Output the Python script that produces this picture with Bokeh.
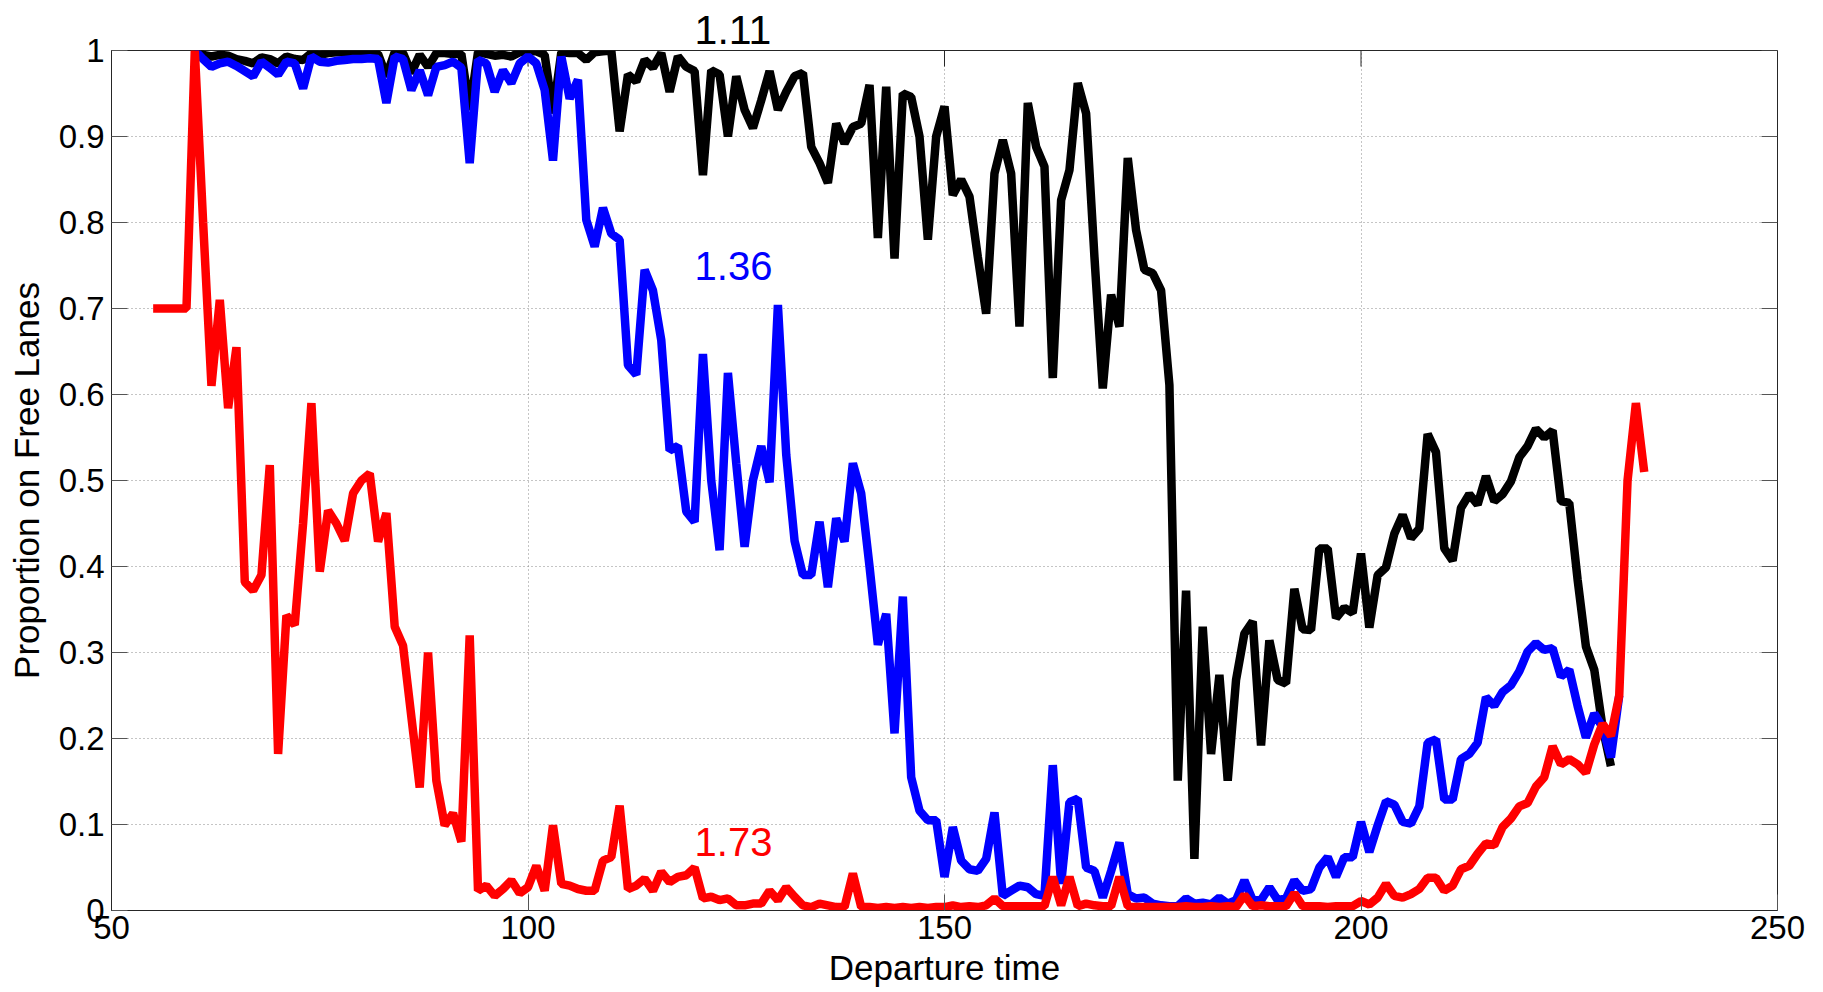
from bokeh.plotting import figure
from bokeh.models import Label, FixedTicker, Range1d, CustomJSTickFormatter, Title
from bokeh.embed import file_html
from bokeh.resources import INLINE

FONT = "Liberation Sans"

# Departure times (start of each series)
red_start, blue_start, black_start = 55, 60, 60

red_vals = [
    0.70, 0.70, 0.70, 0.70, 0.70,
    1.00, 0.80, 0.61, 0.71, 0.584, 0.655, 0.382, 0.372, 0.39, 0.518,
    0.182, 0.343, 0.332, 0.45, 0.59, 0.394, 0.465, 0.45, 0.43, 0.485,
    0.50, 0.508, 0.429, 0.462, 0.33, 0.308, 0.225, 0.143, 0.30, 0.151,
    0.099, 0.113, 0.08, 0.32, 0.023, 0.029, 0.017, 0.025, 0.035, 0.02,
    0.027, 0.052, 0.023, 0.099, 0.031, 0.029, 0.025, 0.023, 0.023, 0.058,
    0.062, 0.122, 0.025, 0.029, 0.037, 0.023, 0.045, 0.033, 0.039, 0.041,
    0.05, 0.014, 0.016, 0.012, 0.014, 0.006, 0.006, 0.008, 0.008, 0.023,
    0.012, 0.027, 0.016, 0.006, 0.004, 0.008, 0.006, 0.004, 0.004, 0.043,
    0.004, 0.004, 0.003, 0.004, 0.003, 0.004, 0.003, 0.004, 0.003, 0.004,
    0.004, 0.006, 0.004, 0.005, 0.004, 0.006, 0.014, 0.005, 0.005, 0.005,
    0.005, 0.005, 0.005, 0.039, 0.006, 0.039, 0.005, 0.008, 0.006, 0.005,
    0.005, 0.039, 0.005, 0.004, 0.004, 0.004, 0.004, 0.004, 0.004, 0.005,
    0.004, 0.004, 0.005, 0.004, 0.005, 0.004, 0.018, 0.005, 0.006, 0.005,
    0.005, 0.005, 0.02, 0.005, 0.005, 0.005, 0.004, 0.005, 0.005, 0.005,
    0.011, 0.007, 0.015, 0.031, 0.017, 0.015, 0.019, 0.025, 0.038, 0.038,
    0.023, 0.029, 0.048, 0.052, 0.066, 0.078, 0.076, 0.097, 0.107, 0.121,
    0.125, 0.144, 0.155, 0.191, 0.17, 0.176, 0.17, 0.16, 0.193, 0.217,
    0.203, 0.25, 0.5, 0.59, 0.51,
]

blue_vals = [
    1.0, 0.99, 0.981, 0.985, 0.987, 0.982, 0.976, 0.97, 0.987, 0.98,
    0.972, 0.987, 0.985, 0.956, 0.993, 0.987, 0.986, 0.988, 0.989, 0.99,
    0.99, 0.991, 0.99, 0.939, 0.993, 0.99, 0.954, 0.977, 0.948, 0.981,
    0.983, 0.987, 0.98, 0.869, 0.989, 0.985, 0.952, 0.977, 0.962, 0.985,
    0.993, 0.985, 0.954, 0.872, 0.993, 0.944, 0.966, 0.803, 0.772, 0.817,
    0.787, 0.78, 0.634, 0.623, 0.745, 0.721, 0.663, 0.535, 0.54, 0.464,
    0.452, 0.647, 0.50, 0.419, 0.625, 0.52, 0.423, 0.50, 0.54, 0.498,
    0.704, 0.53, 0.43, 0.39, 0.39, 0.452, 0.376, 0.456, 0.429, 0.52,
    0.485, 0.40, 0.309, 0.345, 0.206, 0.365, 0.155, 0.116, 0.105, 0.105,
    0.039, 0.097, 0.058, 0.048, 0.046, 0.06, 0.114, 0.017, 0.023, 0.029,
    0.027, 0.019, 0.017, 0.169, 0.031, 0.126, 0.13, 0.05, 0.046, 0.015,
    0.046, 0.079, 0.019, 0.014, 0.015, 0.008, 0.006, 0.005, 0.005, 0.014,
    0.008, 0.009, 0.007, 0.015, 0.008, 0.012, 0.035, 0.012, 0.012, 0.027,
    0.012, 0.014, 0.035, 0.023, 0.025, 0.05, 0.062, 0.039, 0.062, 0.062,
    0.103, 0.068, 0.099, 0.127, 0.123, 0.103, 0.101, 0.121, 0.195, 0.199,
    0.129, 0.129, 0.176, 0.182, 0.195, 0.248, 0.238, 0.254, 0.262, 0.278,
    0.301, 0.311, 0.303, 0.305, 0.272, 0.28, 0.238, 0.201, 0.229, 0.213,
    0.178, 0.25,
]

black_vals = [
    1.0, 0.995, 0.993, 0.995, 0.994, 0.99, 0.988, 0.985, 0.992, 0.99,
    0.985, 0.993, 0.99, 0.989, 0.997, 0.995, 0.997, 0.998, 0.998, 0.998,
    0.999, 0.998, 0.996, 0.97, 0.998, 0.997, 0.974, 0.995, 0.981, 0.997,
    0.997, 0.996, 0.996, 0.931, 0.998, 0.996, 0.994, 0.995, 0.993, 0.998,
    0.999, 0.999, 0.995, 0.927, 0.998, 0.997, 0.997, 0.989, 0.998, 0.999,
    1.0, 0.906, 0.972, 0.964, 0.989, 0.98, 0.997, 0.952, 0.993, 0.981,
    0.976, 0.855, 0.977, 0.972, 0.90, 0.97, 0.931, 0.91, 0.942, 0.976,
    0.931, 0.952, 0.97, 0.974, 0.888, 0.869, 0.846, 0.915, 0.892, 0.911,
    0.915, 0.96, 0.782, 0.958, 0.758, 0.95, 0.946, 0.90, 0.78, 0.90,
    0.935, 0.832, 0.85, 0.83, 0.76, 0.694, 0.857, 0.896, 0.857, 0.679,
    0.939, 0.888, 0.865, 0.619, 0.826, 0.861, 0.962, 0.927, 0.76, 0.607,
    0.716, 0.679, 0.875, 0.791, 0.745, 0.741, 0.721, 0.611, 0.151, 0.372,
    0.06, 0.33, 0.182, 0.274, 0.151, 0.268, 0.322, 0.336, 0.192, 0.314,
    0.268, 0.264, 0.374, 0.327, 0.326, 0.421, 0.421, 0.34, 0.352, 0.346,
    0.415, 0.329, 0.39, 0.399, 0.438, 0.46, 0.433, 0.444, 0.554, 0.533,
    0.421, 0.407, 0.468, 0.484, 0.472, 0.505, 0.476, 0.484, 0.499, 0.527,
    0.54, 0.56, 0.55, 0.558, 0.476, 0.474, 0.385, 0.307, 0.28, 0.213,
    0.168,
]

red_t = list(range(red_start, red_start + len(red_vals)))
blue_t = list(range(blue_start, blue_start + len(blue_vals)))
black_t = list(range(black_start, black_start + len(black_vals)))

x_ticks = [50, 100, 150, 200, 250]
y_ticks = [0, 0.1, 0.2, 0.3, 0.4, 0.5, 0.6, 0.7, 0.8, 0.9, 1.0]

annot_texts = ["1.11", "1.36", "1.73"]
annot_colors = ["black", "blue", "red"]
annot_x = [120, 120, 120]
annot_y = [1.03, 0.75, 0.08]

X0, X1, Y0, Y1 = 50, 250, 0, 1
W, H = 1823, 992
ML, MR, MT, MB = 111, 46, 50, 82
FW, FH = W - ML - MR, H - MT - MB
TICK = 16

p = figure(width=W, height=H, output_backend="svg", toolbar_location=None,
           x_range=Range1d(X0, X1), y_range=Range1d(Y0, Y1),
           min_border_left=ML, min_border_right=MR, min_border_top=MT,
           min_border_bottom=MB, background_fill_color="white",
           border_fill_color="white")

# "1.11" sits above the frame: use the title, offset to the annotation x position
p.title = Title(text=annot_texts[0], align="left",
                offset=(annot_x[0] - X0) / (X1 - X0) * FW,
                text_font=FONT, text_font_size="41px", text_font_style="normal",
                text_color=annot_colors[0], standoff=14, text_line_height=0.55)

p.outline_line_color = "#262626"
p.outline_line_width = 1

fmt = CustomJSTickFormatter(code="return tick.toFixed(1).replace(/\\.0$/, '');")
fmt_x = CustomJSTickFormatter(code="return tick.toFixed(0);")

for ax in (p.xaxis[0], p.yaxis[0]):
    ax.axis_line_color = "#262626"
    ax.major_tick_in = TICK
    ax.major_tick_out = 0
    ax.minor_tick_line_color = None
    ax.major_tick_line_color = "#555555"
    ax.major_label_text_font = FONT
    ax.major_label_text_font_size = "33px"
    ax.major_label_text_color = "black"
    ax.axis_label_text_font = FONT
    ax.axis_label_text_font_size = "35px"
    ax.axis_label_text_font_style = "normal"
    ax.axis_label_text_color = "black"

p.xaxis.ticker = FixedTicker(ticks=x_ticks)
p.yaxis.ticker = FixedTicker(ticks=y_ticks)
p.xaxis.formatter = fmt_x
p.yaxis.formatter = fmt
p.xaxis.major_label_standoff = 5
p.yaxis.major_label_standoff = 7
p.xaxis.axis_label = "Departure time"
p.yaxis.axis_label = "Proportion on Free Lanes"
p.xaxis.axis_label_standoff = 6
p.yaxis.axis_label_standoff = 10

p.xgrid.ticker = FixedTicker(ticks=x_ticks)
p.ygrid.ticker = FixedTicker(ticks=y_ticks)
for g in (p.xgrid[0], p.ygrid[0]):
    g.grid_line_color = "#8a8a8a"
    g.grid_line_dash = "1 3"
    g.grid_line_width = 1

# mirrored ticks on the right and top edges (box on)
dx = TICK / FW * (X1 - X0)
dy = TICK / FH * (Y1 - Y0)
p.segment(x0=[X1 - dx] * len(y_ticks), y0=y_ticks, x1=[X1] * len(y_ticks), y1=y_ticks,
          line_color="#555555", line_width=1)
p.segment(x0=x_ticks, y0=[Y1 - dy] * len(x_ticks), x1=x_ticks, y1=[Y1] * len(x_ticks),
          line_color="#262626", line_width=1)

LW = 8.5
p.line(black_t, black_vals, line_color="black", line_width=LW)
p.line(blue_t, blue_vals, line_color="blue", line_width=LW)
p.line(red_t, red_vals, line_color="red", line_width=LW)

for t, c, x, y in zip(annot_texts[1:], annot_colors[1:], annot_x[1:], annot_y[1:]):
    p.add_layout(Label(x=x, y=y, text=t, text_color=c, text_font=FONT,
                       text_font_size="40px", text_baseline="middle", text_align="left"))

open("out.html", "w").write(file_html(p, INLINE))
